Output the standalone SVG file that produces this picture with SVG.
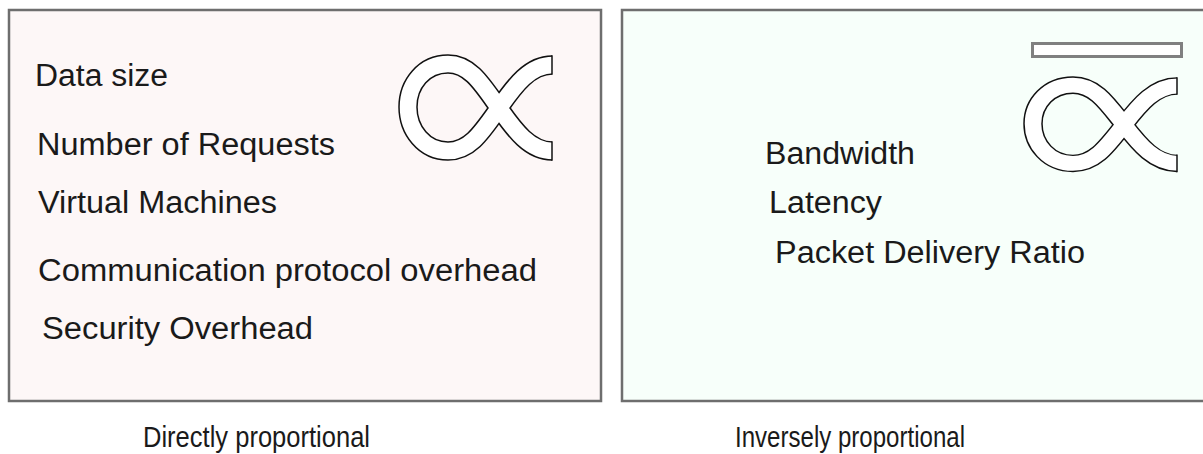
<svg xmlns="http://www.w3.org/2000/svg" width="1203" height="454" viewBox="0 0 1203 454">
  <style>
    .panel { stroke: #6e6e6e; stroke-width: 2.5; }
    .item { font-family: "Liberation Sans", Arial, sans-serif; font-size: 31px; fill: #1a1a1a; }
    .caption { font-family: "Liberation Sans", Arial, sans-serif; font-size: 29px; fill: #1a1a1a; }
    .sym-edge { fill: none; stroke: #111; stroke-width: 19.5; }
    .sym-body { fill: none; stroke: #fff; stroke-width: 16.5; }
    .sym-cap { stroke: #111; stroke-width: 1.5; }
  </style>
  <defs>
    <!-- proportional sign: thick outlined stroke built from two passes -->
    <g id="propto">
      <path class="sym-edge" d="M552,65 C530,65 515,85 499,108 C482,132 470,151 448,151 C424,151 408,130 408,107 C408,84 424,64 448,64 C470,64 482,84 499,108 C515,131 530,151 552,151"/>
      <path class="sym-body" d="M553,65 C530,65 515,85 499,108 C482,132 470,151 448,151 C424,151 408,130 408,107 C408,84 424,64 448,64 C470,64 482,84 499,108 C515,131 530,151 553,151"/>
      <line class="sym-cap" x1="552" y1="55.2" x2="552" y2="74.8"/>
      <line class="sym-cap" x1="552" y1="141.2" x2="552" y2="160.8"/>
    </g>
  </defs>

  <rect width="1203" height="454" fill="#ffffff"/>

  <!-- directly proportional panel -->
  <g id="direct-panel">
    <rect class="panel" x="9" y="10" width="592" height="391" fill="#fdf7f7"/>
    <use href="#propto"/>
    <text class="item" x="35" y="86" textLength="133" lengthAdjust="spacingAndGlyphs">Data size</text>
    <text class="item" x="37" y="155" textLength="298" lengthAdjust="spacingAndGlyphs">Number of Requests</text>
    <text class="item" x="38" y="213" textLength="239" lengthAdjust="spacingAndGlyphs">Virtual Machines</text>
    <text class="item" x="38" y="281" textLength="499" lengthAdjust="spacingAndGlyphs">Communication protocol overhead</text>
    <text class="item" x="42" y="339" textLength="271" lengthAdjust="spacingAndGlyphs">Security Overhead</text>
  </g>

  <!-- inversely proportional panel -->
  <g id="inverse-panel">
    <rect class="panel" x="622" y="10" width="600" height="391" fill="#f7fffa"/>
    <rect x="1032.5" y="43.5" width="149" height="13" fill="#ffffff" stroke="#808080" stroke-width="3"/>
    <use href="#propto" transform="translate(625 27.5) scale(1 0.9)"/>
    <text class="item" x="765" y="164" textLength="150" lengthAdjust="spacingAndGlyphs">Bandwidth</text>
    <text class="item" x="769" y="213" textLength="113" lengthAdjust="spacingAndGlyphs">Latency</text>
    <text class="item" x="775" y="263" textLength="310" lengthAdjust="spacingAndGlyphs">Packet Delivery Ratio</text>
  </g>

  <!-- captions -->
  <g id="captions">
    <text class="caption" x="143" y="447" textLength="227" lengthAdjust="spacingAndGlyphs">Directly proportional</text>
    <text class="caption" x="735" y="447" textLength="230" lengthAdjust="spacingAndGlyphs">Inversely proportional</text>
  </g>

  <g id="connectors"/>
</svg>
